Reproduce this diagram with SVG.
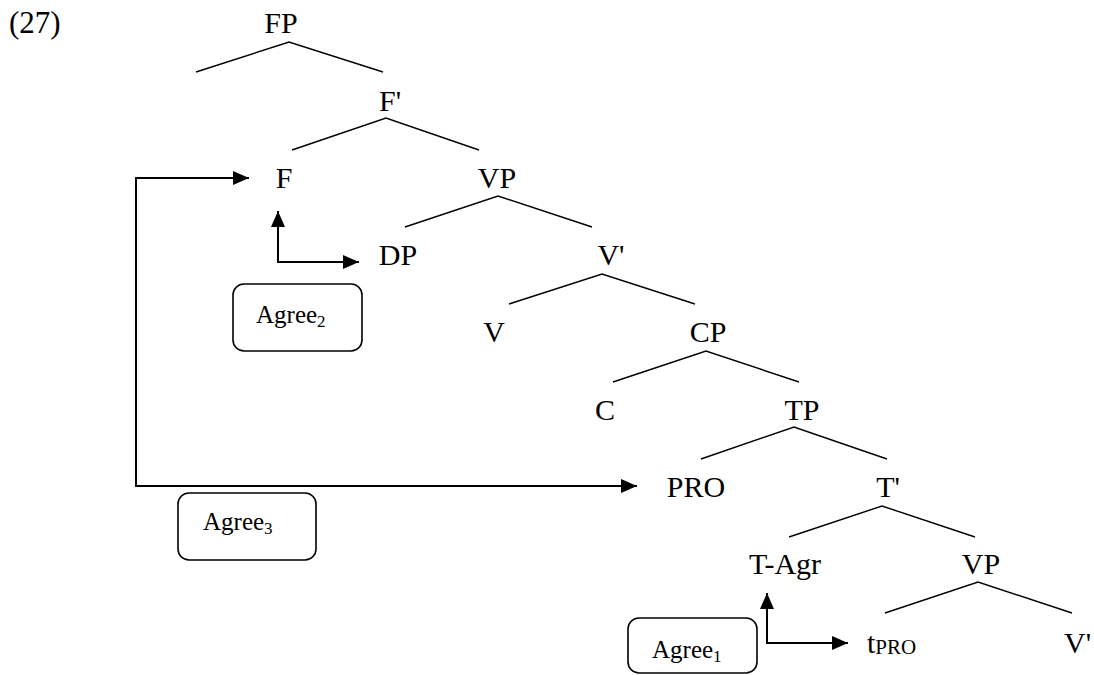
<svg xmlns="http://www.w3.org/2000/svg" width="1094" height="675" viewBox="0 0 1094 675">
<defs>
<style>
text{font-family:"Liberation Serif","Times New Roman",serif;fill:#000}
.n{font-size:30px;text-anchor:middle}
.a{font-size:25px}
.s{font-size:17px}
.br{fill:none;stroke:#000;stroke-width:1.4}
.ar{fill:none;stroke:#000;stroke-width:2}
.bx{fill:#fff;stroke:#000;stroke-width:1.6}
</style>
<marker id="ah" viewBox="0 0 16 14" refX="16" refY="7" markerWidth="16" markerHeight="14" markerUnits="userSpaceOnUse" orient="auto">
<path d="M0,0 L16,7 L0,14 Z" fill="#000"/>
</marker>
</defs>
<rect width="1094" height="675" fill="#fff"/>
<text x="9" y="33" style="font-size:31px">(27)</text>
<g id="branches">
<polyline class="br" points="196,72 289,42 383,72"/>
<polyline class="br" points="292,150 386,118 479,150"/>
<polyline class="br" points="405,227 498,196 592,227"/>
<polyline class="br" points="509,304 602,274 695,304"/>
<polyline class="br" points="613,382 706,351 799,382"/>
<polyline class="br" points="701,459 794,427 887,459"/>
<polyline class="br" points="789,537 882,506 975,537"/>
<polyline class="br" points="885,613 978,582 1072,613"/>
</g>
<g id="connectors">
<path class="ar" d="M278,262 H359" marker-end="url(#ah)"/>
<path class="ar" d="M278,263 V211" marker-end="url(#ah)"/>
<path class="ar" d="M136,486 V178 H249" marker-end="url(#ah)"/>
<path class="ar" d="M135,486 H637" marker-end="url(#ah)"/>
<path class="ar" d="M767,643 H848" marker-end="url(#ah)"/>
<path class="ar" d="M767,644 V593" marker-end="url(#ah)"/>
</g>
<g id="FP"><text class="n" x="281" y="33">FP</text></g>
<g id="Fbar"><text class="n" x="390" y="111">F'</text></g>
<g id="F"><text class="n" x="284" y="188">F</text></g>
<g id="VP1"><text class="n" x="497" y="188">VP</text></g>
<g id="DP"><text class="n" x="398" y="265">DP</text></g>
<g id="Vbar1"><text class="n" x="611" y="265">V'</text></g>
<g id="V"><text class="n" x="494" y="342">V</text></g>
<g id="CP"><text class="n" x="708" y="342">CP</text></g>
<g id="C"><text class="n" x="605" y="420">C</text></g>
<g id="TP"><text class="n" x="802" y="420">TP</text></g>
<g id="PRO"><text class="n" x="696" y="497">PRO</text></g>
<g id="Tbar"><text class="n" x="888" y="497">T'</text></g>
<g id="TAgr"><text class="n" x="785" y="574">T-Agr</text></g>
<g id="VP2"><text class="n" x="981" y="574">VP</text></g>
<g id="tPRO"><text x="867" y="653" style="font-size:30px">t<tspan style="font-size:21px" dy="1">PRO</tspan></text></g>
<g id="Vbar2"><text x="1064" y="653" style="font-size:30px">V'</text></g>
<g id="Agree2">
<rect class="bx" x="233" y="284" width="129" height="67" rx="11"/>
<text class="a" x="256" y="323">Agree<tspan class="s" dy="4">2</tspan></text>
</g>
<g id="Agree3">
<rect class="bx" x="178" y="493" width="138" height="67" rx="11"/>
<text class="a" x="203" y="530">Agree<tspan class="s" dy="4">3</tspan></text>
</g>
<g id="Agree1">
<rect class="bx" x="628" y="618" width="129" height="55" rx="11"/>
<text class="a" x="652" y="658">Agree<tspan class="s" dy="4">1</tspan></text>
</g>
</svg>
